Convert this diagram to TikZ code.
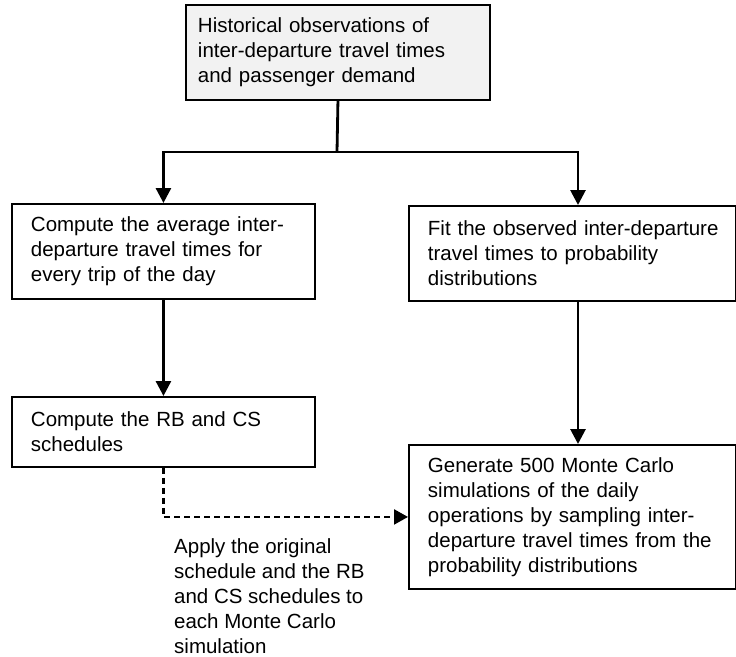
\documentclass[tikz,border=0pt]{standalone}
\usepackage{fontspec}
\setmainfont{Liberation Sans}
\usetikzlibrary{arrows.meta}
\definecolor{topfill}{HTML}{F2F2F2}
\tikzset{
  box/.style={draw=black, line width=1.9pt, anchor=north west, align=left,
    inner xsep=19pt, inner ysep=0pt, font=\fontsize{20.5}{25}\selectfont},
  arr/.style={line width=2.8pt, -{Triangle[width=15pt,length=15pt]}},
  darr/.style={line width=2.3pt, dash pattern=on 6pt off 4pt, -{Triangle[width=15pt,length=14pt]}},
  note/.style={anchor=north west, align=left, inner sep=0pt, font=\fontsize{20.5}{25}\selectfont},
}
\begin{document}
\begin{tikzpicture}[x=1pt,y=-1pt]
\useasboundingbox (0,0) rectangle (736,656);
\node[box, fill=topfill, text width=280pt, inner xsep=12pt, minimum height=95pt] (top) at (185,4)
  {\mbox{Historical observations of}\\\mbox{inter-departure travel times}\\\mbox{and passenger demand}};
\node[box, text width=265pt, minimum height=95pt] (A) at (11,203)
  {\mbox{Compute the average inter-}\\\mbox{departure travel times for}\\\mbox{every trip of the day}};
\node[box, text width=289pt, minimum height=95pt] (B) at (408,205)
  {\mbox{Fit the observed inter-departure}\\\mbox{travel times to probability}\\\mbox{distributions}};
\node[box, text width=265pt, minimum height=70pt] (C) at (11,396)
  {\mbox{Compute the RB and CS}\\\mbox{schedules}};
\node[box, text width=289pt, minimum height=144pt] (D) at (408,444)
  {\mbox{Generate 500 Monte Carlo}\\\mbox{simulations of the daily}\\\mbox{operations by sampling inter-}\\\mbox{departure travel times from the}\\\mbox{probability distributions}};
\node[note] (lbl) at (174,538)
  {Apply the original\\schedule and the RB\\and CS schedules to\\each Monte Carlo\\simulation};
\coordinate (split) at (337,152);
\coordinate (bx) at (578,0);
\draw[line width=2.8pt] (top.south) -- (split);
\draw[arr] (split) -| (A.north);
\draw[arr] (split) -| (B.north -| bx);
\draw[arr] (A.south) -- (C.north);
\draw[arr] (B.south -| bx) -- (D.north -| bx);
\draw[darr] (C.south) |- (D.west);
\end{tikzpicture}
\end{document}
